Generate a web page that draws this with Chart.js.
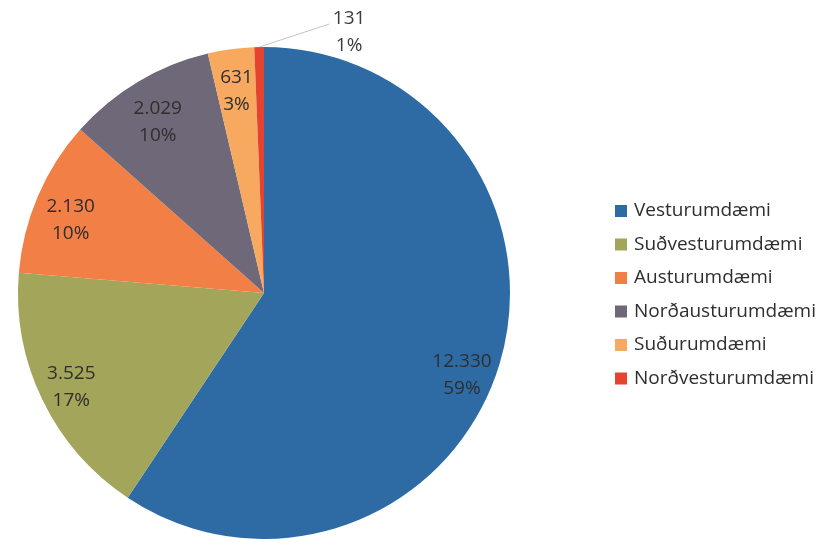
<!DOCTYPE html>
<html>
<head>
<meta charset="utf-8">
<script src="https://cdn.jsdelivr.net/npm/chart.js@4.4.1/dist/chart.umd.min.js"></script>
<style>
  html, body { margin: 0; padding: 0; background: #fff; }
  #wrap { position: relative; width: 822px; height: 539px; }
</style>
</head>
<body>
<div id="wrap"><canvas id="pie"></canvas></div>
<script>
// Umdæmi and their counts
const regions = ['Vesturumdæmi', 'Suðvesturumdæmi', 'Austurumdæmi', 'Norðausturumdæmi', 'Suðurumdæmi', 'Norðvesturumdæmi'];
const counts = [12330, 3525, 2130, 2029, 631, 131];
const sliceColors = ['#2E6BA4', '#A2A55A', '#F27F46', '#6F6878', '#F6A95F', '#E4432F'];

const FONT = "'Open Sans', sans-serif";
const TEXT = '#2e2e2e';
const total = counts.reduce((a, b) => a + b, 0);

// label placement tweaks (degrees along the arc, fraction of radius)
const labelTurn = [5.5, 0, -2.5, -1, 0, 0];
const labelDepth = [0.87, 0.87, 0.84, 0.82, 0.83, 1];

// 12330 -> "12.330"
const fmtNum = (v) => String(v).replace(/\B(?=(\d{3})+(?!\d))/g, '.');
const fmtPct = (v) => Math.round(v / total * 100) + '%';

// Value + percent labels inside the slices, small slices get a leader line
const sliceLabels = {
  id: 'sliceLabels',
  afterDatasetsDraw(chart) {
    const ctx = chart.ctx;
    const meta = chart.getDatasetMeta(0);
    ctx.save();
    ctx.font = '19px ' + FONT;
    ctx.textAlign = 'center';
    ctx.textBaseline = 'middle';
    meta.data.forEach((arc, i) => {
      const p = arc.getProps(['x', 'y', 'startAngle', 'endAngle', 'outerRadius'], true);
      const mid = (p.startAngle + p.endAngle) / 2 + labelTurn[i] * Math.PI / 180;
      const share = counts[i] / total;
      const l1 = fmtNum(counts[i]);
      const l2 = fmtPct(counts[i]);
      if (share < 0.02) {
        const ex = p.x + Math.cos(mid) * p.outerRadius;
        const ey = p.y + Math.sin(mid) * p.outerRadius;
        ctx.strokeStyle = '#c4c4c4';
        ctx.lineWidth = 1;
        ctx.beginPath();
        ctx.moveTo(ex, ey);
        ctx.lineTo(ex + 70, ey - 23);
        ctx.stroke();
        ctx.fillStyle = '#3c3c3c';
        ctx.fillText(l1, ex + 90, ey - 28);
        ctx.fillText(l2, ex + 90, ey - 1);
      } else {
        const r = p.outerRadius * labelDepth[i];
        const cx = p.x + Math.cos(mid) * r;
        const cy = p.y + Math.sin(mid) * r;
        ctx.fillStyle = TEXT;
        ctx.fillText(l1, cx, cy - 13);
        ctx.fillText(l2, cx, cy + 14);
      }
    });
    ctx.restore();
  }
};

// Legend column on the right
const sideLegend = {
  id: 'sideLegend',
  afterDraw(chart) {
    const ctx = chart.ctx;
    ctx.save();
    ctx.font = '19px ' + FONT;
    ctx.textAlign = 'left';
    ctx.textBaseline = 'middle';
    regions.forEach((name, i) => {
      const y = 211 + i * 33.5;
      ctx.fillStyle = sliceColors[i];
      ctx.fillRect(615, y - 6, 12, 12);
      ctx.fillStyle = TEXT;
      ctx.fillText(name, 634, y);
    });
    ctx.restore();
  }
};

new Chart(document.getElementById('pie'), {
  type: 'pie',
  data: {
    labels: regions,
    datasets: [{
      data: counts,
      backgroundColor: sliceColors,
      borderWidth: 0
    }]
  },
  options: {
    responsive: true,
    maintainAspectRatio: false,
    animation: false,
    layout: { padding: { left: 18, right: 312, top: 47, bottom: 0 } },
    plugins: {
      legend: { display: false },
      tooltip: { enabled: false }
    }
  },
  plugins: [sliceLabels, sideLegend]
});
</script>
</body>
</html>
